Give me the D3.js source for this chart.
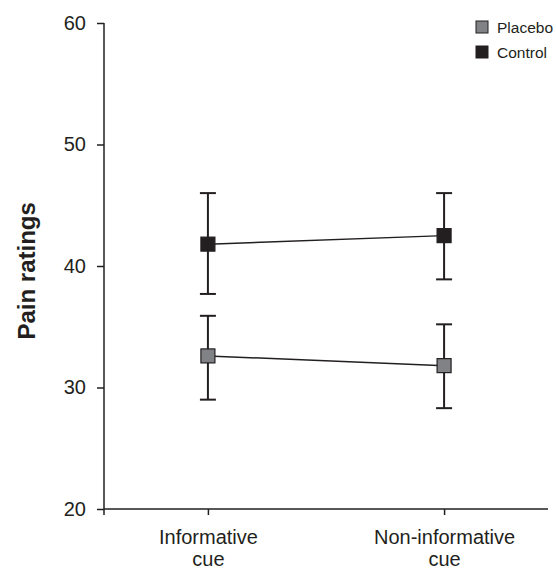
<!DOCTYPE html>
<html><head><meta charset="utf-8">
<script src="https://cdn.jsdelivr.net/npm/d3@7"></script>
<style>body{margin:0;background:#fff;} svg{display:block;font-family:"Liberation Sans",Arial,sans-serif;}</style>
</head><body>
<svg id="c" width="556" height="569"></svg>
<script>
const categories = ["Informative cue", "Non-informative cue"];
const categoryLines = [["Informative", "cue"], ["Non-informative", "cue"]];
const seriesNames = ["Placebo", "Control"];
const placeboMean = [32.6, 31.8];
const placeboLow = [29.0, 28.3];
const placeboHigh = [35.9, 35.2];
const controlMean = [41.8, 42.5];
const controlLow = [37.7, 38.9];
const controlHigh = [46.0, 46.0];
const yTicks = [20, 30, 40, 50, 60];
const yLabel = "Pain ratings";

const series = [
  {name: seriesNames[0], mean: placeboMean, low: placeboLow, high: placeboHigh, fill: "#808285"},
  {name: seriesNames[1], mean: controlMean, low: controlLow, high: controlHigh, fill: "#231f20"}
];

const svg = d3.select("#c");
const ink = "#231f20";
const x = d3.scalePoint().domain(categories).range([104, 548]).padding(0.44);
const y = d3.scaleLinear().domain([20, 60]).range([509, 23]);

// y axis
const ya = svg.append("g").attr("transform", "translate(104,0)")
  .call(d3.axisLeft(y).tickValues(yTicks).tickSize(7).tickSizeOuter(0).tickPadding(11));
ya.select(".domain").remove();
ya.append("line").attr("x1", 0).attr("x2", 0).attr("y1", y(60)).attr("y2", y(20) + 6)
  .attr("stroke", ink).attr("stroke-width", 1.5);
ya.selectAll(".tick line").attr("stroke", ink).attr("stroke-width", 1.5);
ya.selectAll(".tick text").attr("font-size", 20).attr("fill", ink)
  .attr("font-family", "Liberation Sans, Arial, sans-serif");

// x axis
const xa = svg.append("g").attr("transform", `translate(0,${y(20)})`)
  .call(d3.axisBottom(x).tickSize(6).tickSizeOuter(0).tickFormat(""));
xa.select(".domain").attr("d", `M104,0H548`).attr("stroke", ink).attr("stroke-width", 1.5);
xa.selectAll(".tick line").attr("stroke", ink).attr("stroke-width", 1.5);
xa.selectAll(".tick").each(function(d, i) {
  const t = d3.select(this).append("text").attr("fill", ink).attr("font-size", 20)
    .attr("text-anchor", "middle").attr("font-family", "Liberation Sans, Arial, sans-serif");
  categoryLines[i].forEach((s, j) => t.append("tspan").attr("x", 0).attr("y", 35 + j * 22).text(s));
});

// y label
svg.append("text").attr("transform", `translate(35,${y(39.6)}) rotate(-90)`)
  .attr("text-anchor", "middle").attr("font-size", 24).attr("font-weight", "bold")
  .attr("fill", ink).text(yLabel);

// series
const line = d3.line().x((d, i) => x(categories[i])).y(d => y(d));
series.forEach(s => {
  const g = svg.append("g");
  g.append("path").datum(s.mean).attr("d", line).attr("fill", "none")
    .attr("stroke", ink).attr("stroke-width", 1.5);
  categories.forEach((c, i) => {
    const cx = x(c);
    g.append("line").attr("x1", cx).attr("x2", cx).attr("y1", y(s.low[i])).attr("y2", y(s.high[i]))
      .attr("stroke", ink).attr("stroke-width", 2);
    [s.low[i], s.high[i]].forEach(v => g.append("line").attr("x1", cx - 8).attr("x2", cx + 8)
      .attr("y1", y(v)).attr("y2", y(v)).attr("stroke", ink).attr("stroke-width", 2));
    g.append("rect").attr("x", cx - 7).attr("y", y(s.mean[i]) - 7).attr("width", 14).attr("height", 14)
      .attr("fill", s.fill).attr("stroke", ink).attr("stroke-width", 1.2);
  });
});

// legend
const lg = svg.append("g");
series.forEach((s, i) => {
  const ly = 27 + i * 25;
  lg.append("rect").attr("x", 476).attr("y", ly - 6).attr("width", 12).attr("height", 12)
    .attr("fill", s.fill).attr("stroke", ink).attr("stroke-width", 1);
  lg.append("text").attr("x", 497).attr("y", ly + 5.5).attr("font-size", 15.5).attr("fill", ink).text(s.name);
});
</script>
</body></html>
